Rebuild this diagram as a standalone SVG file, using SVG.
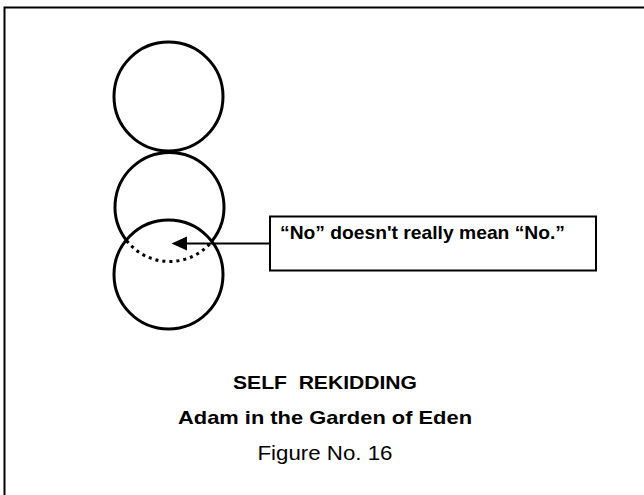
<svg xmlns="http://www.w3.org/2000/svg" width="644" height="495" viewBox="0 0 644 495">
<style>
.ln{fill:none;stroke:#000;stroke-width:3}
.bx{fill:#fff;stroke:#000;stroke-width:2}
.b{font-family:"Liberation Sans","Arial",sans-serif;font-weight:bold;fill:#000}
.r{font-family:"Liberation Sans","Arial",sans-serif;fill:#000}
</style>
<rect width="644" height="495" fill="#fff"/>
<rect id="frame" x="4.5" y="7.5" width="760" height="560" fill="none" stroke="#000" stroke-width="2"/>
<g id="circle-top"><circle class="ln" cx="168.5" cy="96.5" r="54.5"/></g>
<g id="circle-middle">
<path class="ln" d="M126.7,240.75 A54.5,54.5 0 1 1 212.3,240.75"/>
<path class="ln" stroke-dasharray="3 4" d="M126.7,240.75 A54.5,54.5 0 0 0 212.3,240.75"/>
</g>
<g id="circle-bottom"><circle class="ln" cx="168.5" cy="274.5" r="54.5"/></g>
<g id="label-box">
<rect class="bx" x="270" y="216.5" width="326" height="54"/>
<text class="b" x="280" y="239" font-size="19" textLength="285" lengthAdjust="spacingAndGlyphs">“No” doesn't really mean “No.”</text>
</g>
<g id="connectors">
<line x1="270" y1="243.5" x2="185" y2="243.5" stroke="#000" stroke-width="2"/>
<polygon points="171.5,243.5 187,236.5 187,250.5" fill="#000"/>
</g>
<g id="caption">
<text class="b" x="325" y="389" font-size="18.5" text-anchor="middle" textLength="184" lengthAdjust="spacingAndGlyphs" xml:space="preserve">SELF  REKIDDING</text>
<text class="b" x="325" y="424" font-size="19" text-anchor="middle" textLength="294" lengthAdjust="spacingAndGlyphs">Adam in the Garden of Eden</text>
<text class="r" x="325" y="460" font-size="20.5" text-anchor="middle" textLength="135" lengthAdjust="spacingAndGlyphs">Figure No. 16</text>
</g>
</svg>
